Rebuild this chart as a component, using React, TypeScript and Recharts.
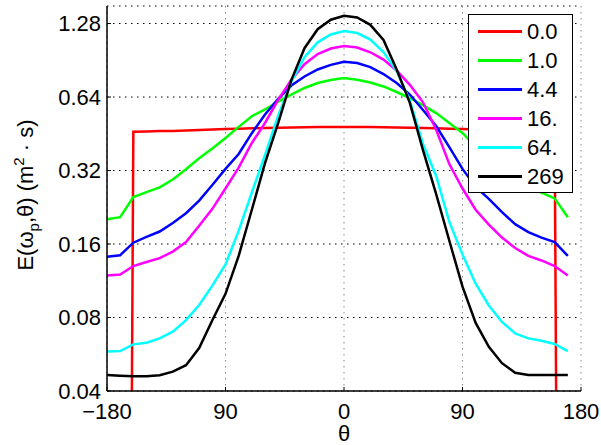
import React from "react";
import { LineChart, Line, XAxis, YAxis, CartesianGrid, Legend } from "recharts";

// angle (deg)
const theta = [
  -180, -170, -160, -150, -140, -130, -120, -110, -100, -90, -80, -70, -60, -50, -40, -30, -20, -10,
  0, 10, 20, 30, 40, 50, 60, 70, 80, 90, 100, 110, 120, 130, 140, 150, 160, 170,
];

// E(w_p, theta) for each case; 1e-10 stands in for the zero values of the first one
const e00 = [
  1e-10, 1e-10, 0.461, 0.462, 0.464, 0.465, 0.467, 0.469, 0.471, 0.473, 0.475, 0.477, 0.478, 0.479, 0.48, 0.481, 0.482, 0.482,
  0.482, 0.482, 0.482, 0.481, 0.48, 0.479, 0.478, 0.477, 0.475, 0.473, 0.471, 0.469, 0.467, 0.466, 0.465, 0.464, 0.463, 1e-10,
];
const e10 = [
  0.202, 0.206, 0.249, 0.261, 0.273, 0.294, 0.324, 0.359, 0.394, 0.435, 0.483, 0.534, 0.569, 0.613, 0.655, 0.697, 0.73, 0.751,
  0.766, 0.753, 0.734, 0.707, 0.671, 0.634, 0.593, 0.55, 0.501, 0.456, 0.4, 0.365, 0.33, 0.3, 0.277, 0.26, 0.246, 0.206,
];
const e44 = [
  0.142, 0.144, 0.162, 0.171, 0.18, 0.195, 0.214, 0.241, 0.279, 0.325, 0.374, 0.455, 0.543, 0.629, 0.713, 0.777, 0.83, 0.867,
  0.893, 0.882, 0.849, 0.795, 0.73, 0.655, 0.566, 0.487, 0.399, 0.325, 0.274, 0.245, 0.216, 0.193, 0.179, 0.17, 0.163, 0.143,
];
const e16 = [
  0.119, 0.12, 0.13, 0.135, 0.14, 0.149, 0.163, 0.19, 0.223, 0.27, 0.329, 0.415, 0.501, 0.623, 0.753, 0.872, 0.96, 1.011,
  1.035, 1.02, 0.976, 0.911, 0.822, 0.718, 0.609, 0.47, 0.34, 0.27, 0.221, 0.192, 0.17, 0.154, 0.143, 0.137, 0.13, 0.119,
];
const e64 = [
  0.058, 0.0583, 0.0621, 0.0631, 0.0657, 0.07, 0.078, 0.09, 0.108, 0.132, 0.181, 0.26, 0.37, 0.537, 0.739, 0.932, 1.072, 1.154,
  1.193, 1.17, 1.1, 0.978, 0.818, 0.618, 0.411, 0.304, 0.197, 0.145, 0.11, 0.0896, 0.0767, 0.0689, 0.0657, 0.0643, 0.0623, 0.0583,
];
const e269 = [
  0.0465, 0.0462, 0.046, 0.046, 0.0464, 0.048, 0.051, 0.06, 0.078, 0.1, 0.143, 0.221, 0.343, 0.5, 0.751, 1.014, 1.213, 1.327,
  1.378, 1.355, 1.264, 1.096, 0.83, 0.606, 0.388, 0.256, 0.165, 0.107, 0.076, 0.0607, 0.052, 0.0475, 0.0465, 0.0465, 0.0465, 0.0465,
];

const seriesNames = ["0.0", "1.0", "4.4", "16.", "64.", "269"];
const seriesValues = [e00, e10, e44, e16, e64, e269];
const seriesColors = ["#ff0000", "#00ff00", "#0000ff", "#ff00ff", "#00ffff", "#000000"];

const xTicks = [-180, -90, 0, 90, 180];
const xTickLabels = ["\u2212180", "90", "0", "90", "180"];
const yTicks = [0.04, 0.08, 0.16, 0.32, 0.64, 1.28];
const yTickLabels = ["0.04", "0.08", "0.16", "0.32", "0.64", "1.28"];

const data = theta.map((t, i) => {
  const row: Record<string, number> = { theta: t };
  seriesNames.forEach((n, k) => {
    row[n] = seriesValues[k][i];
  });
  return row;
});

const FONT = "'Liberation Sans', Arial, Helvetica, sans-serif";
const tickStyle = { fill: "#000", fontSize: 22, fontFamily: FONT };

function LegendBox() {
  return (
    <div
      style={{
        width: 105,
        height: 179,
        boxSizing: "border-box",
        border: "1px solid #000",
        background: "#fff",
        paddingTop: 2,
        fontFamily: FONT,
      }}
    >
      {seriesNames.map((n, k) => (
        <div key={n} style={{ display: "flex", alignItems: "center", height: 29 }}>
          <div style={{ marginLeft: 9, width: 44, height: 3, background: seriesColors[k] }} />
          <span style={{ marginLeft: 5, fontSize: 22, lineHeight: "29px", color: "#000" }}>{n}</span>
        </div>
      ))}
    </div>
  );
}

export default function App() {
  return (
    <div style={{ position: "absolute", left: 0, top: 0, width: 601, height: 445, background: "#fff" }}>
      <LineChart width={601} height={445} data={data} margin={{ top: 6, right: 20, bottom: 0, left: 0 }}>
        <CartesianGrid
          xAxisId="b"
          yAxisId="l"
          vertical={false}
          stroke="#000"
          strokeDasharray="1.5 4.5"
        />
        <CartesianGrid
          xAxisId="b"
          yAxisId="l"
          horizontal={false}
          stroke="#888"
          strokeDasharray="1.5 4.5"
        />
        <XAxis
          xAxisId="b"
          dataKey="theta"
          type="number"
          domain={[-180, 180]}
          ticks={xTicks}
          tickFormatter={(v: number) => xTickLabels[xTicks.indexOf(v)]}
          height={54}
          tickSize={-4}
          tickMargin={16}
          tick={tickStyle}
          axisLine={{ stroke: "#000", strokeWidth: 1.5 }}
          tickLine={{ stroke: "#000" }}
        />
        <XAxis
          xAxisId="t"
          orientation="top"
          dataKey="theta"
          type="number"
          domain={[-180, 180]}
          ticks={xTicks}
          height={0}
          tickSize={-4}
          tick={false}
          axisLine={{ stroke: "#000", strokeWidth: 1.5 }}
          tickLine={{ stroke: "#000" }}
        />
        <YAxis
          yAxisId="l"
          type="number"
          scale="log"
          domain={[0.04, 1.51]}
          allowDataOverflow
          ticks={yTicks}
          tickFormatter={(v: number) => yTickLabels[yTicks.indexOf(v)]}
          width={107}
          tickSize={-4}
          tickMargin={10}
          tick={tickStyle}
          axisLine={{ stroke: "#000", strokeWidth: 1.5 }}
          tickLine={{ stroke: "#000" }}
        />
        <YAxis
          yAxisId="r"
          orientation="right"
          type="number"
          scale="log"
          domain={[0.04, 1.51]}
          allowDataOverflow
          ticks={yTicks}
          width={0}
          tickSize={-4}
          tick={false}
          axisLine={{ stroke: "#000", strokeWidth: 1.5 }}
          tickLine={{ stroke: "#000" }}
        />
        {seriesNames.map((n, k) => (
          <Line
            key={n}
            xAxisId="b"
            yAxisId="l"
            type="linear"
            dataKey={n}
            name={n}
            stroke={seriesColors[k]}
            strokeWidth={2.5}
            dot={false}
            activeDot={false}
            isAnimationActive={false}
          />
        ))}
        <Legend
          align="center"
          verticalAlign="middle"
          layout="horizontal"
          content={() => <LegendBox />}
          wrapperStyle={{ left: 468, top: 14, width: 105, height: 179 }}
        />
      </LineChart>
      <svg
        width={601}
        height={445}
        style={{ position: "absolute", left: 0, top: 0, pointerEvents: "none" }}
        fontFamily={FONT}
      >
        <text
          x={33}
          y={195}
          transform="rotate(-90, 33, 195)"
          textAnchor="middle"
          fontSize={22}
          fill="#000"
        >
          E(ω
          <tspan fontSize={15} dy={6}>p</tspan>
          <tspan dy={-6}>,θ) (m</tspan>
          <tspan fontSize={15} dy={-9}>2</tspan>
          <tspan dy={9}> · s)</tspan>
        </text>
        <text x={344} y={441} textAnchor="middle" fontSize={22} fill="#000">
          θ
        </text>
      </svg>
    </div>
  );
}
